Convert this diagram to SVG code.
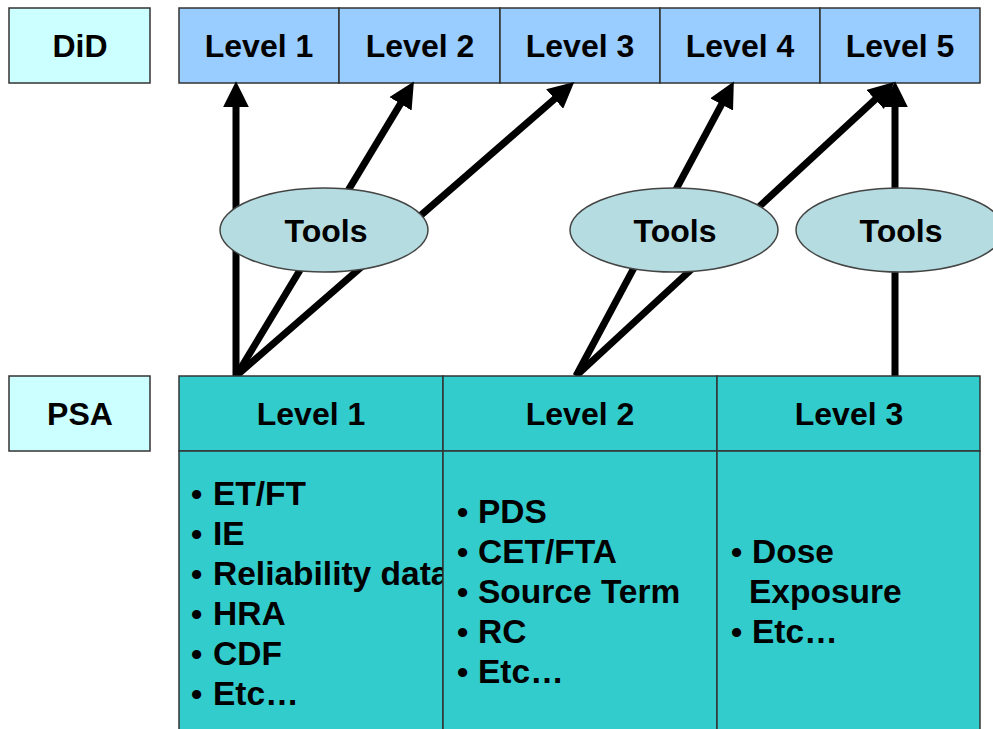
<svg xmlns="http://www.w3.org/2000/svg" width="993" height="729" viewBox="0 0 993 729">
<style>
.t{font-family:"Liberation Sans",Arial,sans-serif;font-weight:bold;font-size:32px;fill:#000}
.b{font-size:33.5px}
.c{text-anchor:middle}
.box{stroke:#333;stroke-width:1.5}
.conn{stroke:#000;stroke-width:7;fill:none;marker-end:url(#ah)}
.ell{fill:#B5DCE0;stroke:#444;stroke-width:1.5}
</style>
<defs>
<marker id="ah" markerUnits="userSpaceOnUse" markerWidth="26" markerHeight="26" viewBox="0 0 24 24" refX="4" refY="12" orient="auto">
<path d="M0,0 L24,12 L0,24 z" fill="#000"/>
</marker>
<clipPath id="clip1"><rect x="179" y="451" width="264" height="290"/></clipPath>
</defs>
<rect width="993" height="729" fill="#fff"/>

<g id="did-label">
<rect class="box" x="9" y="8" width="141" height="75" fill="#CCFFFF"/>
<text class="t c" x="80" y="57">DiD</text>
</g>
<g id="did-levels">
<rect class="box" x="179" y="8" width="160" height="75" fill="#99CCFF"/>
<rect class="box" x="339" y="8" width="161" height="75" fill="#99CCFF"/>
<rect class="box" x="500" y="8" width="160" height="75" fill="#99CCFF"/>
<rect class="box" x="660" y="8" width="160" height="75" fill="#99CCFF"/>
<rect class="box" x="820" y="8" width="160" height="75" fill="#99CCFF"/>
<text class="t c" x="259" y="57">Level 1</text>
<text class="t c" x="420" y="57">Level 2</text>
<text class="t c" x="580" y="57">Level 3</text>
<text class="t c" x="740" y="57">Level 4</text>
<text class="t c" x="900" y="57">Level 5</text>
</g>

<g id="connectors">
<line class="conn" x1="236" y1="376" x2="236" y2="103"/>
<line class="conn" x1="236" y1="376" x2="402.7" y2="100.1"/>
<line class="conn" x1="236" y1="376" x2="557.9" y2="96.1"/>
<line class="conn" x1="576" y1="376" x2="723.6" y2="100.6"/>
<line class="conn" x1="576" y1="376" x2="878.3" y2="96.6"/>
<line class="conn" x1="895" y1="376" x2="895" y2="103"/>
</g>

<g id="tools1">
<ellipse class="ell" cx="324" cy="230" rx="104" ry="42"/>
<text class="t c" x="326" y="242">Tools</text>
</g>
<g id="tools2">
<ellipse class="ell" cx="674" cy="230" rx="104" ry="42"/>
<text class="t c" x="675" y="242">Tools</text>
</g>
<g id="tools3">
<ellipse class="ell" cx="900" cy="230" rx="104" ry="42"/>
<text class="t c" x="901" y="242">Tools</text>
</g>

<g id="psa-label">
<rect class="box" x="9" y="376" width="141" height="75" fill="#CCFFFF"/>
<text class="t c" x="80" y="425">PSA</text>
</g>

<g id="psa-level1">
<rect class="box" x="179" y="376" width="264" height="75" fill="#33CCCC"/>
<rect class="box" x="179" y="451" width="264" height="290" fill="#33CCCC"/>
<text class="t c" x="311" y="425">Level 1</text>
<g clip-path="url(#clip1)">
<text class="t" x="191" y="505">•</text><text class="t b" x="213" y="505">ET/FT</text>
<text class="t" x="191" y="545">•</text><text class="t b" x="213" y="545">IE</text>
<text class="t" x="191" y="585">•</text><text class="t b" x="213" y="585">Reliability data</text>
<text class="t" x="191" y="625">•</text><text class="t b" x="213" y="625">HRA</text>
<text class="t" x="191" y="665">•</text><text class="t b" x="213" y="665">CDF</text>
<text class="t" x="191" y="705">•</text><text class="t b" x="213" y="705">Etc…</text>
</g>
</g>

<g id="psa-level2">
<rect class="box" x="443" y="376" width="274" height="75" fill="#33CCCC"/>
<rect class="box" x="443" y="451" width="274" height="290" fill="#33CCCC"/>
<text class="t c" x="580" y="425">Level 2</text>
<text class="t" x="457" y="523">•</text><text class="t b" x="478" y="523">PDS</text>
<text class="t" x="457" y="563">•</text><text class="t b" x="478" y="563">CET/FTA</text>
<text class="t" x="457" y="603">•</text><text class="t b" x="478" y="603">Source Term</text>
<text class="t" x="457" y="643">•</text><text class="t b" x="478" y="643">RC</text>
<text class="t" x="457" y="683">•</text><text class="t b" x="478" y="683">Etc…</text>
</g>

<g id="psa-level3">
<rect class="box" x="717" y="376" width="263" height="75" fill="#33CCCC"/>
<rect class="box" x="717" y="451" width="263" height="290" fill="#33CCCC"/>
<text class="t c" x="849" y="425">Level 3</text>
<text class="t" x="731" y="563">•</text><text class="t b" x="752" y="563">Dose</text>
<text class="t b" x="749" y="603">Exposure</text>
<text class="t" x="731" y="643">•</text><text class="t b" x="752" y="643">Etc…</text>
</g>
</svg>
